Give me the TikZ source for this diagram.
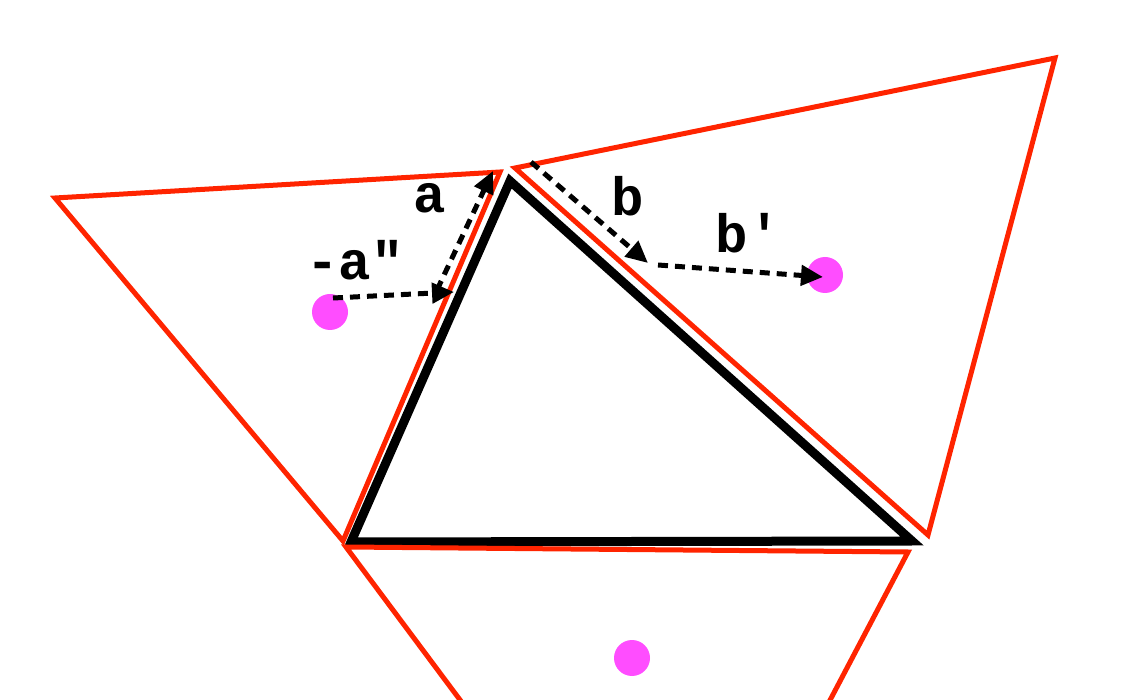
\documentclass[tikz,border=0pt]{standalone}
\usepackage{fontspec}
\setmonofont{Liberation Mono}
\usepackage{xcolor}
\usetikzlibrary{arrows.meta}

\definecolor{edgered}{RGB}{255,36,0}
\definecolor{sitepink}{RGB}{255,77,255}

\begin{document}
\begin{tikzpicture}[x=1pt, y=-1pt,
    face/.style={draw=edgered, line width=5pt, line join=miter},
    tri/.style={draw=black, line width=9pt, line join=miter},
    site/.style={circle, fill=sitepink, minimum size=36pt, inner sep=0pt},
    vec/.style={-{Triangle[length=22pt, width=20pt]}, line width=5pt, dash pattern=on 10pt off 7pt},
    lbl/.style={font=\ttfamily\bfseries\fontsize{54}{54}\selectfont, inner sep=0pt}]

    \useasboundingbox (0,0) rectangle (1128,700);

    % central triangle
    \coordinate (p) at (510,181);
    \coordinate (q) at (351,542);
    \coordinate (r) at (912,541);
    \draw[tri] (p) -- (q) -- (r) -- cycle;

    % neighbouring triangles
    \draw[face] (55,198) -- (500,172) -- (343,541) -- cycle;
    \draw[face] (515,168) -- (1055,58) -- (928,535) -- cycle;
    \begin{scope}
        \clip (0,0) rectangle (1128,700);
        \draw[face] (346,547) -- (908,552) -- (677,991) -- cycle;
    \end{scope}

    % sites
    \node[site] (left) at (330,312) {};
    \node[site] (right) at (825,275) {};
    \node[site] (below) at (632,658) {};

    % vectors
    \coordinate (a0) at (333,298);
    \coordinate (a1) at (454,292);
    \coordinate (a2) at (437,290);
    \coordinate (a3) at (493,171);
    \coordinate (b0) at (531,162);
    \coordinate (b1) at (648,263);
    \coordinate (b2) at (658,265);
    \coordinate (b3) at (823,277);
    \draw[vec] (a0) -- (a1);
    \draw[vec] (a2) -- (a3);
    \draw[vec] (b0) -- (b1);
    \draw[vec] (b2) -- (b3);

    \node[lbl] (la) at (430,198) {a};
    \node[lbl] (laa) at (355,260) {-a"};
    \node[lbl] (lb) at (628,196) {b};
    \node[lbl] (lbb) at (748,233) {b'};
\end{tikzpicture}
\end{document}
